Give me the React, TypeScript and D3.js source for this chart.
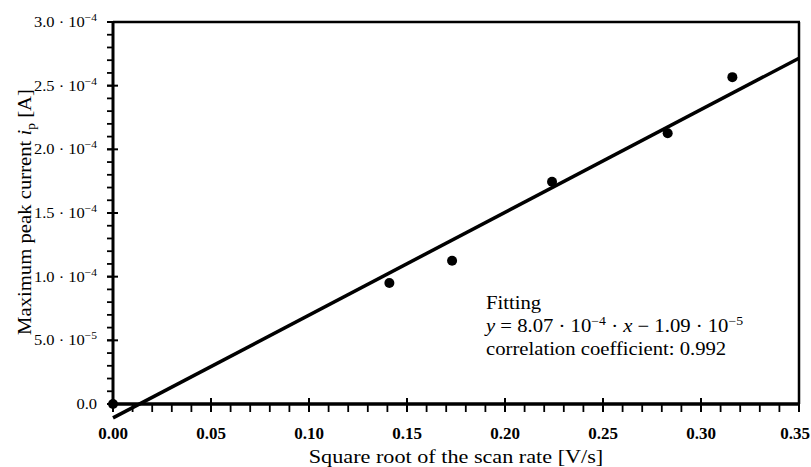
import * as d3 from 'd3';

// measured points (sqrt of scan rate vs. max peak current)
const scanRateSqrt = [0, 0.141, 0.173, 0.224, 0.283, 0.316];
const peakCurrent = [0, 9.5e-5, 1.125e-4, 1.746e-4, 2.126e-4, 2.567e-4];

// linear fit shown in the annotation
const fitSlope = 8.07e-4;
const fitIntercept = -1.09e-5;
const fitRange = [0, 0.35];

const xTickLabels = ['0.00', '0.05', '0.10', '0.15', '0.20', '0.25', '0.30', '0.35'];
const yTickMantissa = ['0.0', '5.0', '1.0', '1.5', '2.0', '2.5', '3.0'];
const yTickExponent = ['', '−5', '−4', '−4', '−4', '−4', '−4'];

const width = 811;
const height = 467;
const left = 113;
const right = 799;
const top = 22;
const bottom = 404;
const serif = '"Liberation Serif", "Times New Roman", serif';

// the original typeface is wider than Liberation Serif, so stretch it a bit
const Wide = ({ x, y, sx = 1.15, rotate = 0, children, ...rest }: any) => (
  <text transform={`translate(${x},${y}) rotate(${rotate}) scale(${sx},1)`} {...rest}>
    {children}
  </text>
);

export default function App() {
  const x = d3.scaleLinear().domain([0, 0.35]).range([left, right]);
  const y = d3.scaleLinear().domain([0, 3e-4]).range([bottom, top]);

  const xMajor = d3.range(0, 8).map((i) => i * 0.05);
  const xMinor = x.ticks(35);
  const yMajor = d3.range(0, 7).map((i) => i * 5e-5);
  const yMinor = y.ticks(30);

  const fitLine = d3
    .line<number>()
    .x((d) => x(d))
    .y((d) => y(fitSlope * d + fitIntercept));

  return (
    <svg
      width={width}
      height={height}
      style={{ position: 'absolute', left: 0, top: 0, background: '#fff' }}
      fontFamily={serif}
    >
      {/* frame */}
      <line x1={left} x2={right + 1} y1={top} y2={top} stroke="#000" strokeWidth={2.5} />
      <line x1={right} x2={right} y1={top} y2={bottom} stroke="#000" strokeWidth={2.5} />

      {/* y axis */}
      {yMinor.map((t, i) => (
        <line key={'ym' + i} x1={left - 6} x2={left} y1={y(t)} y2={y(t)} stroke="#000" strokeWidth={1.8} />
      ))}
      {yMajor.map((t, i) => (
        <line key={'yM' + i} x1={left - 6} x2={left + 5} y1={y(t)} y2={y(t)} stroke="#000" strokeWidth={2} />
      ))}
      <line x1={left} x2={left} y1={top - 1} y2={bottom + 2} stroke="#000" strokeWidth={3} />
      {yMajor.map((t, i) => (
        <Wide key={'yl' + i} x={97} y={y(t) + 5} sx={1.1} textAnchor="end" fontSize={15}>
          {yTickMantissa[i]}
          {yTickExponent[i] ? ' · 10' : ''}
          {yTickExponent[i] ? (
            <tspan dy={-6} fontSize={10.5}>
              {yTickExponent[i]}
            </tspan>
          ) : null}
        </Wide>
      ))}

      {/* x axis */}
      {xMinor.map((t, i) => (
        <line key={'xm' + i} x1={x(t)} x2={x(t)} y1={bottom} y2={bottom + 8} stroke="#000" strokeWidth={1.8} />
      ))}
      {xMajor.map((t, i) => (
        <line key={'xM' + i} x1={x(t)} x2={x(t)} y1={bottom - 6} y2={bottom + 8} stroke="#000" strokeWidth={2} />
      ))}
      <line x1={left} x2={right + 1} y1={bottom} y2={bottom} stroke="#000" strokeWidth={3.5} />
      {xMajor.map((t, i) => {
        const last = i === xMajor.length - 1;
        return (
          <text
            key={'xl' + i}
            x={last ? width - 1 : x(t)}
            y={439}
            textAnchor={last ? 'end' : 'middle'}
            fontSize={17}
            fontWeight="bold"
          >
            {xTickLabels[i]}
          </text>
        );
      })}

      {/* fit line */}
      <path d={fitLine(fitRange) ?? ''} fill="none" stroke="#000" strokeWidth={3.5} />

      {/* data points */}
      {scanRateSqrt.map((v, i) => (
        <circle key={'p' + i} cx={x(v)} cy={y(peakCurrent[i])} r={5} fill="#000" />
      ))}

      {/* annotation */}
      <Wide x={486} y={309} fontSize={18}>
        Fitting
      </Wide>
      <Wide x={486} y={332} fontSize={18}>
        <tspan fontStyle="italic">y</tspan> = 8.07 · 10
        <tspan dy={-7} fontSize={12}>−4</tspan>
        <tspan dy={7}> · </tspan>
        <tspan fontStyle="italic">x</tspan> − 1.09 · 10
        <tspan dy={-7} fontSize={12}>−5</tspan>
      </Wide>
      <Wide x={486} y={355} fontSize={18}>
        correlation coefficient: 0.992
      </Wide>

      {/* axis titles */}
      <Wide x={(left + right) / 2} y={463} sx={1.2} textAnchor="middle" fontSize={18.5}>
        Square root of the scan rate [V/s]
      </Wide>
      <Wide x={31} y={212} rotate={-90} sx={1.12} textAnchor="middle" fontSize={18.5}>
        Maximum peak current <tspan fontStyle="italic">i</tspan>
        <tspan dy={4} fontSize={12}>p</tspan>
        <tspan dy={-4}> [A]</tspan>
      </Wide>
    </svg>
  );
}
